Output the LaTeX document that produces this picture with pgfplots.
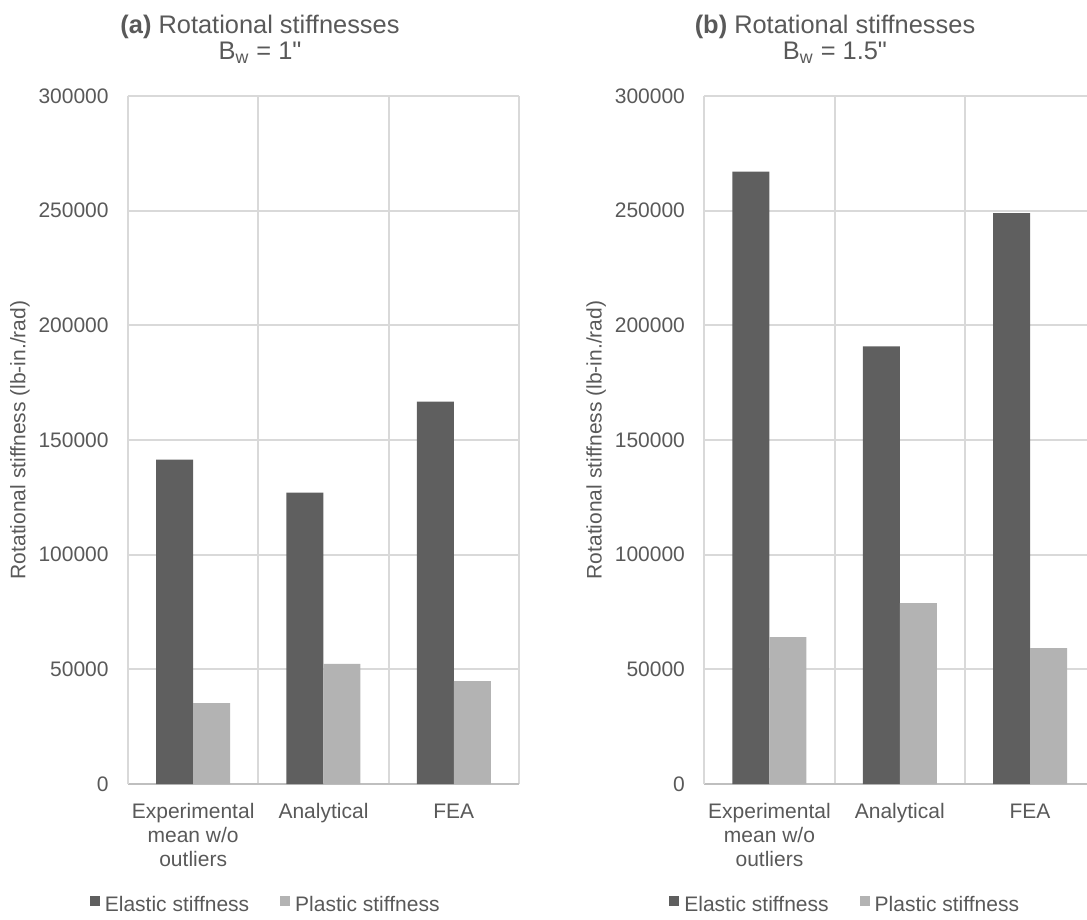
\documentclass[border=0pt]{standalone}
\usepackage{fontspec}
\setmainfont{Liberation Sans}[Ligatures=TeXOff]
\usepackage{pgfplots}
\usepackage{pgfplotstable}
\pgfplotsset{compat=1.18}

\definecolor{txt}{HTML}{595959}
\definecolor{gridc}{HTML}{D9D9D9}
\definecolor{axisc}{HTML}{BFBFBF}
\definecolor{elastic}{HTML}{5F5F5F}
\definecolor{plastic}{HTML}{B3B3B3}

% Rotational stiffness (lb-in./rad), B_w = 1"
\pgfplotstableread{
x elastic plastic
0 141400 35300
1 127100 52400
2 166700 44900
}\bwone
% Rotational stiffness (lb-in./rad), B_w = 1.5"
\pgfplotstableread{
x elastic plastic
0 267000 64100
1 190800 78900
2 248900 59300
}\bwonehalf

\newcommand{\lblfont}{\fontsize{10.5bp}{12bp}\selectfont}
\newcommand{\ttlfont}{\fontsize{12.7bp}{15bp}\selectfont}

\pgfplotsset{
  stiff/.style={
    scale only axis,
    height=344bp,
    ymin=0, ymax=300000,
    xmin=-0.5,
    ybar=0pt, bar width=18.5bp,
    axis lines=left,
    axis line style={-},
    x axis line style={draw=axisc, line width=0.9bp},
    y axis line style={draw=gridc, line width=0.9bp},
    scaled y ticks=false,
    ytick={0,50000,100000,150000,200000,250000,300000},
    yticklabels={0,50000,100000,150000,200000,250000,300000},
    xtick={0,1,2},
    xticklabels={{\strut Experimental\\mean w/o\\outliers},\strut Analytical,\strut FEA},
    minor xtick={-0.5,0.5,1.5,2.5},
    major tick length=0pt, minor tick length=0pt,
    ymajorgrids, xminorgrids,
    major grid style={draw=gridc, line width=0.9bp},
    minor grid style={draw=gridc, line width=0.9bp},
    tick label style={font=\lblfont, text=txt, inner sep=0pt},
    yticklabel style={anchor=east, xshift=-9.5bp},
    xticklabel style={align=center, anchor=north, yshift=-8.6bp},
    ylabel={Rotational stiffness (lb-in./rad)},
    ylabel style={font=\lblfont, text=txt, inner sep=0pt,
      at={(axis description cs:0,0.5)}, anchor=center, yshift=54bp},
    legend columns=2,
    legend style={draw=none, fill=none, font=\lblfont, text=txt,
      anchor=center,
      nodes={inner sep=0pt, inner xsep=2.5bp},
      /tikz/every even column/.append style={column sep=13bp}},
    legend image code/.code={\fill[##1] (0bp,0bp) rectangle (5bp,5bp);},
  }
}

\begin{document}
\begin{tikzpicture}
\useasboundingbox (0bp,0bp) rectangle (543.5bp,-460bp);

\begin{axis}[stiff, at={(64bp,-392bp)}, anchor=south west,
    width=195.5bp, xmax=2.5,
    legend style={at={(axis description cs:0.356,-0.176)}}]
  \addplot[fill=elastic, draw=none] table[x=x, y=elastic] {\bwone};
  \addplot[fill=plastic, draw=none] table[x=x, y=plastic] {\bwone};
  \legend{Elastic stiffness, Plastic stiffness}
\end{axis}

\begin{axis}[stiff, at={(352.15bp,-392bp)}, anchor=south west,
    width=191.35bp, xmax=2.437,
    legend style={at={(axis description cs:0.372,-0.176)}}]
  \addplot[fill=elastic, draw=none] table[x=x, y=elastic] {\bwonehalf};
  \addplot[fill=plastic, draw=none] table[x=x, y=plastic] {\bwonehalf};
  \legend{Elastic stiffness, Plastic stiffness}
\end{axis}

\node[font=\ttlfont, text=txt, anchor=base, inner sep=0pt] at (130bp,-16.5bp)
  {\textbf{(a)} Rotational stiffnesses};
\node[font=\ttlfont, text=txt, anchor=base, inner sep=0pt] at (130bp,-29.75bp)
  {B\textsubscript{w} = 1"};
\node[font=\ttlfont, text=txt, anchor=base, inner sep=0pt] at (417.5bp,-16.5bp)
  {\textbf{(b)} Rotational stiffnesses};
\node[font=\ttlfont, text=txt, anchor=base, inner sep=0pt] at (417.5bp,-29.75bp)
  {B\textsubscript{w} = 1.5"};
\end{tikzpicture}
\end{document}
